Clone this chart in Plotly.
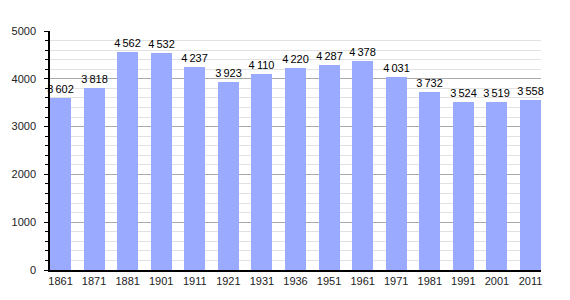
import plotly.graph_objects as go

years = ["1861", "1871", "1881", "1901", "1911", "1921", "1931", "1936", "1951", "1961", "1971", "1981", "1991", "2001", "2011"]
population = [3602, 3818, 4562, 4532, 4237, 3923, 4110, 4220, 4287, 4378, 4031, 3732, 3524, 3519, 3558]
labels = [f"{v // 1000}\u2009{v % 1000:03d}" for v in population]

fig = go.Figure()
fig.add_trace(go.Bar(
    x=list(range(len(years))), y=population,
    text=labels, textposition="outside", cliponaxis=False,
    constraintext="none",
    textfont=dict(family="Liberation Sans, Arial", size=11, color="black"),
    marker=dict(color="#99aaff", line=dict(width=0)),
    width=0.627,
))
fig.update_layout(
    width=570, height=300,
    margin=dict(l=50, r=29, t=31, b=30),
    paper_bgcolor="white", plot_bgcolor="white",
    showlegend=False,
    font=dict(family="Liberation Sans, Arial", size=11, color="#222222"),
    bargap=0,
)
fig.update_xaxes(
    range=[-0.3135, 14.3135],
    tickmode="array", tickvals=list(range(len(years))), ticktext=years,
    showgrid=False, showline=True, linecolor="black", linewidth=1.5,
    ticks="",
    tickfont=dict(size=11, color="#222222"), fixedrange=True,
)
fig.update_yaxes(
    range=[0, 5000], dtick=1000, tick0=0,
    showgrid=True, gridcolor="#aaaaaa", gridwidth=1,
    showline=True, linecolor="black", linewidth=1.5,
    ticks="outside", ticklen=4, tickcolor="black", ticklabelstandoff=6,
    minor=dict(dtick=200, showgrid=True, gridcolor="#e2e2e2", ticks="outside", ticklen=3, tickcolor="black"),
    zeroline=False, tickfont=dict(size=11, color="#222222"),
)
fig.write_html("out.html")
